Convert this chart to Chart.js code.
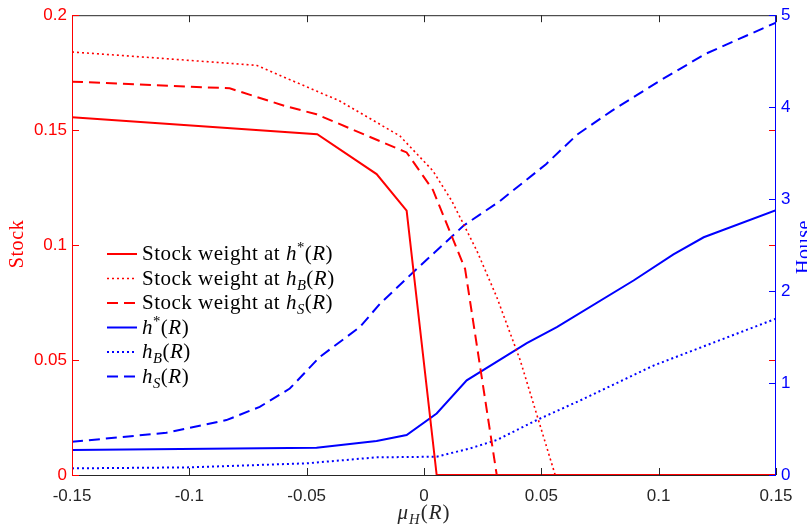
<!DOCTYPE html>
<html>
<head>
<meta charset="utf-8">
<script src="https://cdn.jsdelivr.net/npm/chart.js@4/dist/chart.umd.min.js"></script>
<style>
  html, body { margin: 0; background: #fff; }
  #wrap { width: 807px; height: 529px; }
</style>
</head>
<body>
<div id="wrap"><canvas id="c"></canvas></div>
<script>
// ticks
const xTicks = [-0.15, -0.1, -0.05, 0, 0.05, 0.1, 0.15];
const stockTicks = [0, 0.05, 0.1, 0.15, 0.2];
const houseTicks = [0, 1, 2, 3, 4, 5];

// stock weights (left axis, red)
const xStockStar = [-0.15, -0.0455, -0.0202, -0.0074, 0.0054, 0.15];
const stockStar  = [0.1556, 0.1482, 0.1309, 0.1150, 0, 0];

const xStockB = [-0.15, -0.1127, -0.0714, -0.0458, -0.0359, -0.0103, 0.0038, 0.0118, 0.0225, 0.031, 0.041, 0.0559, 0.15];
const stockB  = [0.184, 0.1813, 0.1782, 0.167, 0.1627, 0.1475, 0.1323, 0.1193, 0.0976, 0.0774, 0.0499, 0, 0];

const xStockS = [-0.15, -0.0828, -0.0592, -0.0458, -0.0074, 0.0038, 0.0175, 0.031, 0.15];
const stockS  = [0.1711, 0.1682, 0.1605, 0.1569, 0.1403, 0.124, 0.0897, 0, 0];

// house (right axis, blue)
const xHStar = [-0.15, -0.0458, -0.0202, -0.0074, 0.0054, 0.0182, 0.0438, 0.0566, 0.0893, 0.1063, 0.1192, 0.15];
const hStar  = [0.271, 0.296, 0.369, 0.434, 0.669, 1.03, 1.435, 1.608, 2.115, 2.40, 2.585, 2.88];

const xHB = [-0.15, -0.0999, -0.05, -0.0202, 0.0054, 0.0196, 0.031, 0.048, 0.0665, 0.0978, 0.15];
const hB  = [0.072, 0.083, 0.127, 0.192, 0.199, 0.289, 0.38, 0.597, 0.81, 1.19, 1.70];

const xHS = [-0.15, -0.1098, -0.0842, -0.07, -0.0572, -0.0444, -0.0273, -0.0188, -0.0046, 0.0168, 0.0324, 0.052, 0.0652, 0.08, 0.1, 0.12, 0.15];
const hS  = [0.361, 0.459, 0.597, 0.741, 0.94, 1.284, 1.61, 1.86, 2.205, 2.71, 2.98, 3.38, 3.70, 3.96, 4.28, 4.58, 4.92];

// legend text, in pieces: [text, style]  (i = italic, sup / sub = raised / lowered small)
const legendText = [
  [['Stock weight at ', ''], ['h', 'i'], ['*', 'sup'], ['(', ''], ['R', 'i'], [')', '']],
  [['Stock weight at ', ''], ['h', 'i'], ['B', 'sub'], ['(', ''], ['R', 'i'], [')', '']],
  [['Stock weight at ', ''], ['h', 'i'], ['S', 'sub'], ['(', ''], ['R', 'i'], [')', '']],
  [['h', 'i'], ['*', 'sup'], ['(', ''], ['R', 'i'], [')', '']],
  [['h', 'i'], ['B', 'sub'], ['(', ''], ['R', 'i'], [')', '']],
  [['h', 'i'], ['S', 'sub'], ['(', ''], ['R', 'i'], [')', '']],
];
const xTitle = [['μ', 'i'], ['H', 'sub'], ['(', ''], ['R', 'i'], [')', '']];

const RED = '#ff0000', BLUE = '#0000ff', INK = '#262626';
const SERIF = '"Liberation Serif", "DejaVu Serif", serif';
const SANS = '"Liberation Sans", Arial, sans-serif';

const pts = (xs, ys) => xs.map((x, i) => ({ x, y: ys[i] }));

function line(label, xs, ys, color, dash, axis, width) {
  return {
    label, data: pts(xs, ys), yAxisID: axis,
    borderColor: color, borderWidth: width || 2, borderDash: dash,
    pointRadius: 0, tension: 0, fill: false, borderCapStyle: 'butt',
  };
}

const DASH = [11, 6], DOT = [2, 3];

// rich text: measure + draw pieces (letter spacing widens Times toward CM)
function richPieces(ctx, pieces, size, sp) {
  return pieces.map(([t, st]) => {
    const small = st === 'sup' || st === 'sub';
    const s = small ? size * 0.7 : size;
    const italic = st === 'i' || st === 'sub';
    const font = `${italic ? 'italic ' : ''}${s}px ${SERIF}`;
    ctx.font = font;
    ctx.letterSpacing = sp + 'px';
    const dy = st === 'sup' ? -size * 0.38 : st === 'sub' ? size * 0.26 : 0;
    return { t, font, dy, w: ctx.measureText(t).width };
  });
}
function drawRich(ctx, pieces, x, y, size, align, sp) {
  sp = sp || 0;
  const ps = richPieces(ctx, pieces, size, sp);
  let cx = x;
  if (align === 'center') cx -= ps.reduce((a, p) => a + p.w, 0) / 2;
  ctx.textBaseline = 'alphabetic';
  ctx.textAlign = 'left';
  ps.forEach(p => { ctx.font = p.font; ctx.letterSpacing = sp + 'px'; ctx.fillText(p.t, cx, y + p.dy); cx += p.w; });
  ctx.letterSpacing = '0px';
}

const framePlugin = {
  id: 'frame',
  afterDraw(chart) {
    const { ctx, chartArea: a, scales } = chart;
    const L = 7;
    ctx.save();
    ctx.lineWidth = 1;
    // top and bottom
    ctx.strokeStyle = INK;
    ctx.beginPath();
    ctx.moveTo(a.left, a.top + 0.5); ctx.lineTo(a.right, a.top + 0.5);
    ctx.moveTo(a.left, a.bottom + 0.5); ctx.lineTo(a.right, a.bottom + 0.5);
    xTicks.forEach(v => {
      const px = Math.round(scales.x.getPixelForValue(v)) + 0.5;
      ctx.moveTo(px, a.bottom); ctx.lineTo(px, a.bottom - L);
      ctx.moveTo(px, a.top); ctx.lineTo(px, a.top + L);
    });
    ctx.stroke();
    // left (red) with its ticks on both sides
    ctx.strokeStyle = RED;
    ctx.beginPath();
    ctx.moveTo(a.left + 0.5, a.top); ctx.lineTo(a.left + 0.5, a.bottom);
    stockTicks.forEach(v => {
      const py = Math.round(scales.y.getPixelForValue(v)) + 0.5;
      ctx.moveTo(a.left, py); ctx.lineTo(a.left + L, py);
      ctx.moveTo(a.right, py); ctx.lineTo(a.right - L, py);
    });
    ctx.stroke();
    // right (blue)
    ctx.strokeStyle = BLUE;
    ctx.beginPath();
    ctx.moveTo(a.right - 0.5, a.top); ctx.lineTo(a.right - 0.5, a.bottom + 1);
    houseTicks.forEach(v => {
      const py = Math.round(scales.y1.getPixelForValue(v)) + 0.5;
      ctx.moveTo(a.right, py); ctx.lineTo(a.right - L, py);
    });
    ctx.stroke();

    // axis titles
    ctx.fillStyle = RED;
    ctx.font = `20px ${SERIF}`;
    ctx.letterSpacing = '0.6px';
    ctx.textAlign = 'center'; ctx.textBaseline = 'alphabetic';
    ctx.save(); ctx.translate(23, 244); ctx.rotate(-Math.PI / 2); ctx.fillText('Stock', 0, 0); ctx.restore();
    ctx.fillStyle = BLUE;
    ctx.save(); ctx.translate(810, 247); ctx.rotate(-Math.PI / 2); ctx.fillText('House', 0, 0); ctx.restore();
    ctx.letterSpacing = '0px';
    ctx.fillStyle = INK;
    drawRich(ctx, xTitle, (a.left + a.right) / 2, 519, 21, 'center', 1);

    // legend
    const ds = chart.data.datasets;
    legendText.forEach((pieces, i) => {
      const y = 254 + i * 24.5;
      const d = ds[i];
      ctx.strokeStyle = d.borderColor;
      ctx.lineWidth = d.borderWidth;
      ctx.setLineDash(d.borderDash || []);
      ctx.beginPath(); ctx.moveTo(107, y); ctx.lineTo(137, y); ctx.stroke();
      ctx.setLineDash([]);
      ctx.fillStyle = '#000';
      drawRich(ctx, pieces, 142, y + 6, 21, 'left', 0.5);
    });
    ctx.restore();
  },
};

new Chart(document.getElementById('c'), {
  type: 'line',
  data: {
    datasets: [
      line('Stock weight at h*(R)', xStockStar, stockStar, RED, [], 'y'),
      line('Stock weight at hB(R)', xStockB, stockB, RED, DOT, 'y', 1.6),
      line('Stock weight at hS(R)', xStockS, stockS, RED, DASH, 'y'),
      line('h*(R)', xHStar, hStar, BLUE, [], 'y1'),
      line('hB(R)', xHB, hB, BLUE, DOT, 'y1'),
      line('hS(R)', xHS, hS, BLUE, DASH, 'y1'),
    ],
  },
  options: {
    responsive: true, maintainAspectRatio: false, animation: false,
    layout: { padding: { top: 14, left: 0, right: 0, bottom: 0 } },
    plugins: { legend: { display: false }, tooltip: { enabled: false } },
    scales: {
      x: {
        type: 'linear', min: -0.15, max: 0.15,
        afterBuildTicks: (s) => { s.ticks = xTicks.map(v => ({ value: v })); },
        afterFit: (s) => { s.height = 54; },
        grid: { display: false, drawTicks: false }, border: { display: false },
        ticks: { color: INK, padding: 11, maxRotation: 0, font: { family: SANS, size: 17 },
                 callback: (v) => String(+v.toFixed(2)) },
      },
      y: {
        position: 'left', min: 0, max: 0.2,
        afterBuildTicks: (s) => { s.ticks = stockTicks.map(v => ({ value: v })); },
        afterFit: (s) => { s.width = 72; },
        grid: { display: false, drawTicks: false }, border: { display: false },
        ticks: { color: RED, padding: 5, font: { family: SANS, size: 17 },
                 callback: (v) => String(+v.toFixed(2)) },
      },
      y1: {
        position: 'right', min: 0, max: 5,
        afterBuildTicks: (s) => { s.ticks = houseTicks.map(v => ({ value: v })); },
        afterFit: (s) => { s.width = 31; },
        grid: { display: false, drawTicks: false }, border: { display: false },
        ticks: { color: BLUE, padding: 5, font: { family: SANS, size: 17 } },
      },
    },
  },
  plugins: [framePlugin],
});
</script>
</body>
</html>
